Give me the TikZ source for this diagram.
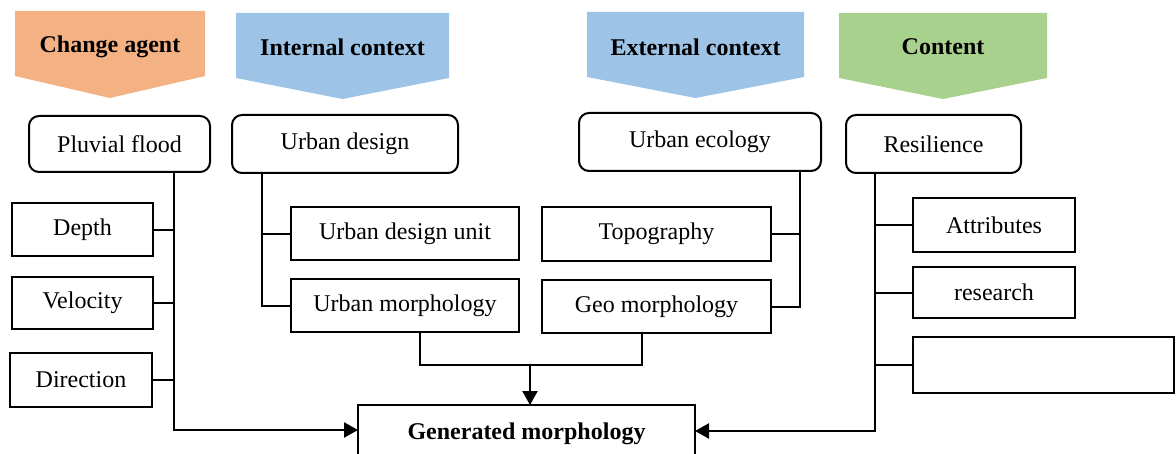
\documentclass[tikz,border=0pt]{standalone}
\usepackage{fontspec}
\setmainfont{Liberation Serif}
\usetikzlibrary{arrows.meta}
\definecolor{agentfill}{HTML}{F4B183}
\definecolor{ctxfill}{HTML}{9DC3E6}
\definecolor{contentfill}{HTML}{A9D18E}

% box given by its corners: style, name, x1, y1, x2, y2, text
\newcommand\boxnode[7]{%
  \node[#1, minimum width={(#5-#3)*0.5pt}, minimum height={(#6-#4)*0.5pt}]
    (#2) at ({(#3+#5)/2},{(#4+#6)/2}) {#7};}
% header pentagon: colour, x1, x2, top, side bottom, tip
\newcommand\headshape[6]{%
  \fill[#1] (#2,#4) -- (#3,#4) -- (#3,#5) -- ({(#2+#3)/2},#6) -- (#2,#5) -- cycle;}

\begin{document}
\begin{tikzpicture}[x=0.5pt,y=-0.5pt,
  plainbox/.style={draw, line width=1pt, inner sep=0pt, outer sep=0pt,
    font=\fontsize{12}{14}\selectfont},
  roundbox/.style={plainbox, rounded corners=5pt},
  genbox/.style={plainbox, font=\bfseries\fontsize{12}{14}\selectfont},
  head/.style={inner sep=0pt, font=\bfseries\fontsize{12}{14}\selectfont},
  link/.style={line width=1pt},
  arrowlink/.style={line width=1.2pt, -{Triangle[length=7pt,width=7.5pt]}}]
\useasboundingbox (0,0) rectangle (1176,454);
\clip (0,0) rectangle (1176,454);

% headers
\headshape{agentfill}{15}{205}{11}{76}{98}
\headshape{ctxfill}{236}{449}{13}{78}{99}
\headshape{ctxfill}{587}{804}{12}{77}{98}
\headshape{contentfill}{839}{1047}{13}{78}{99}
\node[head] (hagent) at (110,47) {Change agent};
\node[head] (hinternal) at (342.5,47) {Internal context};
\node[head] (hexternal) at (695.5,47) {External context};
\node[head] (hcontent) at (943,47) {Content};

% main topics
\boxnode{roundbox}{pluvial}{29}{116}{210}{172}{Pluvial flood}
\boxnode{roundbox}{udesign}{232}{115}{458}{173}{Urban design}
\boxnode{roundbox}{uecology}{579}{113}{821}{171}{Urban ecology}
\boxnode{roundbox}{resil}{846}{115}{1021}{173}{Resilience}

% sub topics
\boxnode{plainbox}{depth}{12}{203}{153}{256}{Depth}
\boxnode{plainbox}{velocity}{12}{277}{153}{329}{Velocity}
\boxnode{plainbox}{direction}{10}{353}{152}{407}{Direction}
\boxnode{plainbox}{udu}{291}{207}{519}{260}{Urban design unit}
\boxnode{plainbox}{umorph}{291}{279}{519}{332}{Urban morphology}
\boxnode{plainbox}{topo}{542}{207}{771}{261}{Topography}
\boxnode{plainbox}{geo}{542}{280}{771}{333}{Geo morphology}
\boxnode{plainbox}{attr}{913}{198}{1075}{252}{Attributes}
\boxnode{plainbox}{research}{913}{267}{1075}{318}{research}
\boxnode{plainbox}{blank}{913}{337}{1174}{393}{}

% result
\boxnode{genbox}{gen}{358}{405}{695}{462}{Generated morphology}

% trunk lines
\coordinate (pjoin) at (174,430);
\coordinate (udx) at (262,0);
\coordinate (uex) at (800,0);
\coordinate (umx) at (420,0);
\coordinate (gmx) at (642,0);
\coordinate (merge) at (530,365);
\coordinate (rjoin) at (875,431);

\draw[arrowlink] (pluvial.south -| pjoin) |- (gen.west |- pjoin);
\foreach \n in {depth,velocity,direction}
  \draw[link] (\n.east) -- (\n.east -| pjoin);

\draw[link] (udesign.south -| udx) |- (umorph.west);
\draw[link] (udu.west) -- (udu.west -| udx);

\draw[link] (uecology.south -| uex) |- (geo.east);
\draw[link] (topo.east) -- (topo.east -| uex);

\draw[link] (umorph.south -| umx) |- (merge);
\draw[link] (geo.south -| gmx) |- (merge);
\draw[arrowlink] (merge) -- (gen.north -| merge);

\draw[arrowlink] (resil.south -| rjoin) |- (gen.east |- rjoin);
\foreach \n in {attr,research,blank}
  \draw[link] (\n.west) -- (\n.west -| rjoin);
\end{tikzpicture}
\end{document}
